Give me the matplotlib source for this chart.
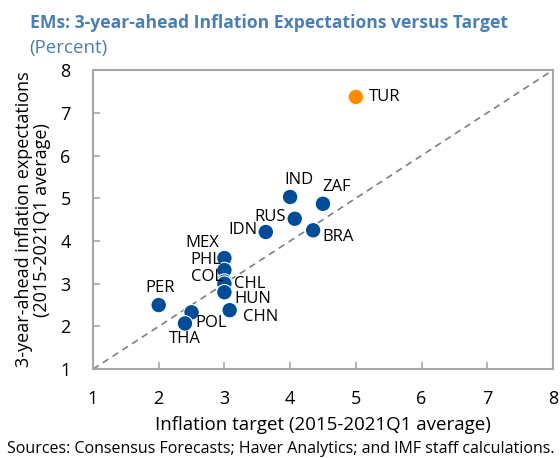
import matplotlib.pyplot as plt

plt.rcParams['font.family'] = ['Open Sans', 'DejaVu Sans']

# Data ------------------------------------------------------------------------

countries = ["TUR", "IND", "ZAF", "RUS", "BRA", "IDN", "MEX", "PHL",
             "COL", "CHL", "HUN", "CHN", "PER", "POL", "THA"]
target = [5.0, 4.0, 4.5, 4.07, 4.35, 3.63, 3.0, 3.0,
          3.0, 3.0, 3.0, 3.08, 2.0, 2.5, 2.4]
expect = [7.37, 5.03, 4.87, 4.52, 4.25, 4.21, 3.6, 3.32,
          3.05, 3.0, 2.8, 2.38, 2.5, 2.33, 2.07]

# label offsets in pixels (dx, dy) and alignment
label_pos = {
    "TUR": (13, 0, "left", "center"),
    "IND": (9, 9, "center", "bottom"),
    "ZAF": (-1, 9, "left", "bottom"),
    "RUS": (-9, 2, "right", "center"),
    "BRA": (9, -7, "left", "center"),
    "IDN": (-8, 2, "right", "center"),
    "MEX": (-5, 15, "right", "center"),
    "PHL": (-3, 10, "right", "center"),
    "COL": (-1, 5, "right", "center"),
    "CHL": (10, 0, "left", "center"),
    "HUN": (10, -7, "left", "center"),
    "CHN": (13, -7, "left", "center"),
    "PER": (1, 9, "center", "bottom"),
    "POL": (4, -11, "left", "center"),
    "THA": (0, -8, "center", "top"),
}

blue = "#004C97"
orange = "#FF8C00"
grey = "#A6A6A6"
title_col = "#4A7EB4"

# Plot ------------------------------------------------------------------------

fig = plt.figure(figsize=(5.6, 4.58), dpi=100)
ax = fig.add_axes([0.166, 0.194, 0.8215, 0.653])

ax.plot([1, 8], [1, 8], linestyle=(0, (4, 3)), color="#7F7F7F", lw=1.2, zorder=1)

colors = [orange if c == "TUR" else blue for c in countries]
ax.scatter(target, expect, s=125, c=colors, edgecolors="white",
           linewidths=0.8, zorder=3)

for c, x, y in zip(countries, target, expect):
    dx, dy, ha, va = label_pos[c]
    ax.annotate(c, (x, y), xytext=(dx, dy), textcoords="offset pixels",
                ha=ha, va=va, fontsize=12, color="black", zorder=4)

ax.set_xlim(1, 8)
ax.set_ylim(1, 8)
ax.set_xticks(range(1, 9))
ax.set_yticks(range(1, 9))
ax.tick_params(direction="in", length=5, width=1.2, color=grey,
               labelsize=13)
ax.tick_params(axis="x", pad=15)
ax.tick_params(axis="y", pad=16)
for s in ax.spines.values():
    s.set_color(grey)
    s.set_linewidth(1.5)

ax.set_xlabel("Inflation target (2015-2021Q1 average)", fontsize=13.5, labelpad=6)
ax.set_ylabel("3-year-ahead inflation expectations\n(2015-2021Q1 average)",
              fontsize=13, labelpad=7, linespacing=1.0)

fig.text(0.053, 0.949, "EMs: 3-year-ahead Inflation Expectations versus Target",
         fontsize=12.6, fontweight="bold", color=title_col, va="center")
fig.text(0.053, 0.896, "(Percent)", fontsize=13.5, color=title_col, va="center")
fig.text(0.502, 0.02, "Sources: Consensus Forecasts; Haver Analytics; and IMF staff calculations.",
         fontsize=11.5, ha="center", va="center")

fig.savefig("out.png", dpi=100)
